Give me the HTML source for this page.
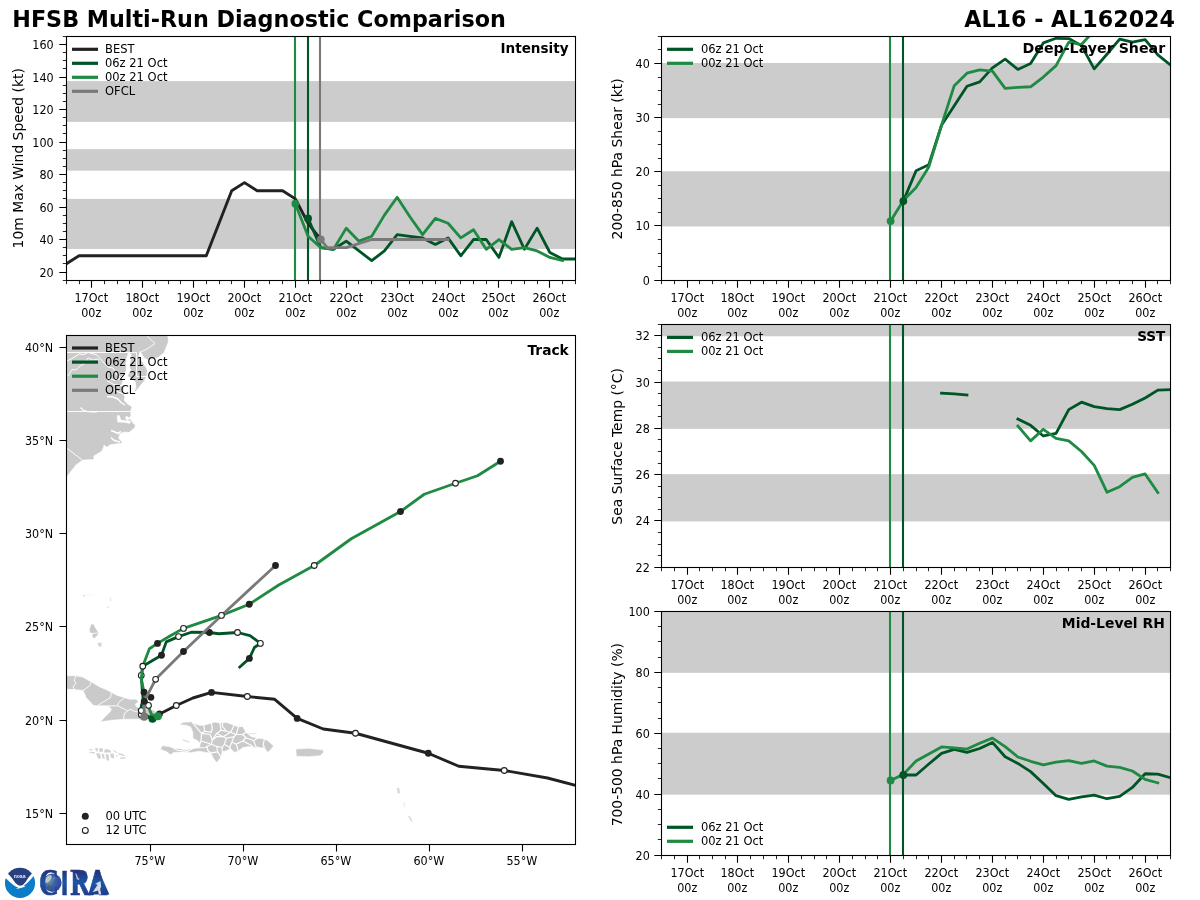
<!DOCTYPE html>
<html lang="en"><head><meta charset="utf-8"><title>HFSB Multi-Run Diagnostic Comparison</title>
<style>
html,body{margin:0;padding:0;background:#fff;}
body{width:1200px;height:900px;overflow:hidden;}
svg{display:block;will-change:transform;}
svg text{font-family:"DejaVu Sans", "Liberation Sans", sans-serif;fill:#000;}
</style></head><body>
<svg width="1200" height="900" viewBox="0 0 1200 900">
<defs><clipPath id="c_I"><rect x="66.3" y="36.4" width="509" height="243.75"/></clipPath>
<clipPath id="c_S"><rect x="661.57" y="36.4" width="509" height="243.75"/></clipPath>
<clipPath id="c_T"><rect x="661.57" y="324.2" width="509" height="243"/></clipPath>
<clipPath id="c_R"><rect x="661.57" y="611.4" width="509" height="243.7"/></clipPath>
<clipPath id="c_K"><rect x="66.5" y="335.5" width="509" height="509"/></clipPath>
<clipPath id="noaaclip"><circle cx="500" cy="472" r="377"/></clipPath>
<radialGradient id="globe" cx="0.3" cy="0.4" r="0.8"><stop offset="0" stop-color="#7f9a9a"/><stop offset="0.4" stop-color="#3f62a8"/><stop offset="1" stop-color="#2b3f9c"/></radialGradient>
<linearGradient id="cirag" gradientUnits="userSpaceOnUse" x1="0" y1="-25" x2="0" y2="0"><stop offset="0" stop-color="#262f7b"/><stop offset="0.5" stop-color="#1c55a3"/><stop offset="1" stop-color="#223c8c"/></linearGradient>
<linearGradient id="cirag2" gradientUnits="userSpaceOnUse" x1="0" y1="870" x2="0" y2="895"><stop offset="0" stop-color="#262f7b"/><stop offset="0.5" stop-color="#1c55a3"/><stop offset="1" stop-color="#223c8c"/></linearGradient></defs>
<rect width="1200" height="900" fill="#fff"/>
<rect x="66.3" y="198.9" width="509.5" height="50.05" fill="#cccccc"/>
<rect x="66.3" y="149.18" width="509.5" height="21.45" fill="#cccccc"/>
<rect x="66.3" y="81.09" width="509.5" height="40.79" fill="#cccccc"/>
<line x1="295" y1="36.4" x2="295" y2="280.65" stroke="#1e8a42" stroke-width="2.1"/>
<line x1="308" y1="36.4" x2="308" y2="280.65" stroke="#005526" stroke-width="2.1"/>
<line x1="320" y1="36.4" x2="320" y2="280.65" stroke="#797979" stroke-width="2.1"/>
<polyline points="66.3,263.9 79.02,255.77 91.75,255.77 104.47,255.77 117.2,255.77 129.92,255.77 142.65,255.77 155.38,255.77 168.1,255.77 180.82,255.77 193.55,255.77 206.27,255.77 219,223.27 231.72,190.77 244.45,182.65 257.17,190.77 269.9,190.77 282.62,190.77 295.35,198.9 308.07,223.27 320.8,239.52" fill="none" stroke="#222222" stroke-width="2.9" stroke-linejoin="round" stroke-linecap="square" clip-path="url(#c_I)"/>
<polyline points="308.07,218.4 320.8,247.65 333.52,249.27 346.25,241.15 358.97,250.9 371.7,260.65 384.42,250.9 397.15,234.65 409.87,236.27 422.6,237.9 435.32,244.4 448.05,237.9 460.77,255.77 473.5,239.52 486.22,239.52 498.95,257.4 511.67,221.65 524.4,249.27 537.12,228.15 549.85,252.52 562.57,259.02 575.3,259.02" fill="none" stroke="#005526" stroke-width="2.8" stroke-linejoin="round" stroke-linecap="square" clip-path="url(#c_I)"/>
<polyline points="295.35,203.77 308.07,236.27 320.8,247.65 333.52,249.27 346.25,228.15 358.97,241.15 371.7,236.27 384.42,215.15 397.15,197.27 409.87,216.77 422.6,234.65 435.32,218.4 448.05,223.27 460.77,237.9 473.5,229.77 486.22,249.27 498.95,239.52 511.67,249.27 524.4,247.65 537.12,250.9 549.85,257.4 562.57,260.65" fill="none" stroke="#1e8a42" stroke-width="2.8" stroke-linejoin="round" stroke-linecap="square" clip-path="url(#c_I)"/>
<polyline points="320.8,239.52 327.16,247.65 346.25,247.65 371.7,239.52 448.05,239.52" fill="none" stroke="#797979" stroke-width="2.8" stroke-linejoin="round" stroke-linecap="square" clip-path="url(#c_I)"/>
<circle cx="295.35" cy="203.77" r="3.9" fill="#1e8a42"/>
<circle cx="308.07" cy="218.4" r="3.9" fill="#005526"/>
<circle cx="320.8" cy="239.52" r="3.9" fill="#797979"/>
<rect x="66.5" y="36.5" width="509" height="244" fill="none" stroke="#000" stroke-width="1.1"/>
<path d="M66.5 280.5v3.7M79.5 280.5v3.7M104.5 280.5v3.7M117.5 280.5v3.7M129.5 280.5v3.7M155.5 280.5v3.7M168.5 280.5v3.7M180.5 280.5v3.7M206.5 280.5v3.7M219.5 280.5v3.7M231.5 280.5v3.7M257.5 280.5v3.7M269.5 280.5v3.7M282.5 280.5v3.7M308.5 280.5v3.7M320.5 280.5v3.7M333.5 280.5v3.7M358.5 280.5v3.7M371.5 280.5v3.7M384.5 280.5v3.7M409.5 280.5v3.7M422.5 280.5v3.7M435.5 280.5v3.7M460.5 280.5v3.7M473.5 280.5v3.7M486.5 280.5v3.7M511.5 280.5v3.7M524.5 280.5v3.7M537.5 280.5v3.7M562.5 280.5v3.7M575.5 280.5v3.7" stroke="#000" stroke-width="0.85" fill="none"/>
<text transform="translate(91.3 302.05) scale(0.949 1)" text-anchor="middle" font-size="11.8">17Oct</text>
<text transform="translate(91.3 317.15) scale(0.949 1)" text-anchor="middle" font-size="11.8">00z</text>
<text transform="translate(142.3 302.05) scale(0.949 1)" text-anchor="middle" font-size="11.8">18Oct</text>
<text transform="translate(142.3 317.15) scale(0.949 1)" text-anchor="middle" font-size="11.8">00z</text>
<text transform="translate(193.3 302.05) scale(0.949 1)" text-anchor="middle" font-size="11.8">19Oct</text>
<text transform="translate(193.3 317.15) scale(0.949 1)" text-anchor="middle" font-size="11.8">00z</text>
<text transform="translate(244.3 302.05) scale(0.949 1)" text-anchor="middle" font-size="11.8">20Oct</text>
<text transform="translate(244.3 317.15) scale(0.949 1)" text-anchor="middle" font-size="11.8">00z</text>
<text transform="translate(295.3 302.05) scale(0.949 1)" text-anchor="middle" font-size="11.8">21Oct</text>
<text transform="translate(295.3 317.15) scale(0.949 1)" text-anchor="middle" font-size="11.8">00z</text>
<text transform="translate(346.3 302.05) scale(0.949 1)" text-anchor="middle" font-size="11.8">22Oct</text>
<text transform="translate(346.3 317.15) scale(0.949 1)" text-anchor="middle" font-size="11.8">00z</text>
<text transform="translate(397.3 302.05) scale(0.949 1)" text-anchor="middle" font-size="11.8">23Oct</text>
<text transform="translate(397.3 317.15) scale(0.949 1)" text-anchor="middle" font-size="11.8">00z</text>
<text transform="translate(448.3 302.05) scale(0.949 1)" text-anchor="middle" font-size="11.8">24Oct</text>
<text transform="translate(448.3 317.15) scale(0.949 1)" text-anchor="middle" font-size="11.8">00z</text>
<text transform="translate(498.3 302.05) scale(0.949 1)" text-anchor="middle" font-size="11.8">25Oct</text>
<text transform="translate(498.3 317.15) scale(0.949 1)" text-anchor="middle" font-size="11.8">00z</text>
<text transform="translate(549.3 302.05) scale(0.949 1)" text-anchor="middle" font-size="11.8">26Oct</text>
<text transform="translate(549.3 317.15) scale(0.949 1)" text-anchor="middle" font-size="11.8">00z</text>
<path d="M91.5 280.5v7.2M142.5 280.5v7.2M193.5 280.5v7.2M244.5 280.5v7.2M295.5 280.5v7.2M346.5 280.5v7.2M397.5 280.5v7.2M448.5 280.5v7.2M498.5 280.5v7.2M549.5 280.5v7.2" stroke="#000" stroke-width="1.1" fill="none"/>
<path d="M66.5 280.5h-3.7M66.5 263.5h-3.7M66.5 255.5h-3.7M66.5 247.5h-3.7M66.5 231.5h-3.7M66.5 223.5h-3.7M66.5 215.5h-3.7M66.5 198.5h-3.7M66.5 190.5h-3.7M66.5 182.5h-3.7M66.5 166.5h-3.7M66.5 158.5h-3.7M66.5 150.5h-3.7M66.5 133.5h-3.7M66.5 125.5h-3.7M66.5 117.5h-3.7M66.5 101.5h-3.7M66.5 93.5h-3.7M66.5 85.5h-3.7M66.5 68.5h-3.7M66.5 60.5h-3.7M66.5 52.5h-3.7M66.5 36.5h-3.7" stroke="#000" stroke-width="0.85" fill="none"/>
<text transform="translate(53.7 276.85) scale(0.949 1)" text-anchor="end" font-size="11.8">20</text>
<text transform="translate(53.7 243.85) scale(0.949 1)" text-anchor="end" font-size="11.8">40</text>
<text transform="translate(53.7 211.85) scale(0.949 1)" text-anchor="end" font-size="11.8">60</text>
<text transform="translate(53.7 178.85) scale(0.949 1)" text-anchor="end" font-size="11.8">80</text>
<text transform="translate(53.7 146.85) scale(0.949 1)" text-anchor="end" font-size="11.8">100</text>
<text transform="translate(53.7 113.85) scale(0.949 1)" text-anchor="end" font-size="11.8">120</text>
<text transform="translate(53.7 81.85) scale(0.949 1)" text-anchor="end" font-size="11.8">140</text>
<text transform="translate(53.7 48.85) scale(0.949 1)" text-anchor="end" font-size="11.8">160</text>
<path d="M66.5 272.5h-7.2M66.5 239.5h-7.2M66.5 207.5h-7.2M66.5 174.5h-7.2M66.5 142.5h-7.2M66.5 109.5h-7.2M66.5 77.5h-7.2M66.5 44.5h-7.2" stroke="#000" stroke-width="1.1" fill="none"/>
<text transform="translate(23.3 158.27) rotate(-90)" text-anchor="middle" font-size="13.9">10m Max Wind Speed (kt)</text>
<text transform="translate(568.6 53.2) scale(0.978 1)" text-anchor="end" font-weight="bold" font-size="13.9">Intensity</text>
<line x1="72" y1="49.3" x2="98" y2="49.3" stroke="#222222" stroke-width="3.2"/>
<text transform="translate(105 53.2) scale(0.975 1)" font-size="11.8">BEST</text>
<line x1="72" y1="63.3" x2="98" y2="63.3" stroke="#005526" stroke-width="3.2"/>
<text transform="translate(105 67.2) scale(0.975 1)" font-size="11.8">06z 21 Oct</text>
<line x1="72" y1="77.3" x2="98" y2="77.3" stroke="#1e8a42" stroke-width="3.2"/>
<text transform="translate(105 81.2) scale(0.975 1)" font-size="11.8">00z 21 Oct</text>
<line x1="72" y1="91.3" x2="98" y2="91.3" stroke="#797979" stroke-width="3.2"/>
<text transform="translate(105 95.2) scale(0.975 1)" font-size="11.8">OFCL</text>
<rect x="661.57" y="171.32" width="509.5" height="55.17" fill="#cccccc"/>
<rect x="661.57" y="62.98" width="509.5" height="55.17" fill="#cccccc"/>
<line x1="890" y1="36.4" x2="890" y2="280.65" stroke="#1e8a42" stroke-width="2.1"/>
<line x1="903" y1="36.4" x2="903" y2="280.65" stroke="#005526" stroke-width="2.1"/>
<polyline points="903.35,201.07 916.07,170.73 928.8,164.77 941.52,125.23 954.25,105.73 966.97,86.23 979.69,81.9 992.42,67.82 1005.14,59.15 1017.87,69.44 1030.6,63.48 1043.32,42.9 1056.05,38.3 1068.77,38.57 1081.49,45.61 1094.22,68.9 1106.94,54.27 1119.67,39.11 1132.39,42.09 1145.12,39.65 1157.85,54.82 1170.57,65.11" fill="none" stroke="#005526" stroke-width="2.8" stroke-linejoin="round" stroke-linecap="square" clip-path="url(#c_S)"/>
<polyline points="890.62,221.11 903.35,200.52 916.07,187.52 928.8,166.94 941.52,125.23 954.25,85.69 966.97,73.23 979.69,69.98 992.42,71.07 1005.14,88.4 1017.87,87.32 1030.6,86.77 1043.32,77.03 1056.05,65.65 1068.77,42.09 1081.49,44.53 1094.22,30.44" fill="none" stroke="#1e8a42" stroke-width="2.8" stroke-linejoin="round" stroke-linecap="square" clip-path="url(#c_S)"/>
<circle cx="890.62" cy="221.11" r="3.9" fill="#1e8a42"/>
<circle cx="903.35" cy="201.07" r="3.9" fill="#005526"/>
<rect x="661.5" y="36.5" width="509" height="244" fill="none" stroke="#000" stroke-width="1.1"/>
<path d="M661.5 280.5v3.7M674.5 280.5v3.7M699.5 280.5v3.7M712.5 280.5v3.7M725.5 280.5v3.7M750.5 280.5v3.7M763.5 280.5v3.7M776.5 280.5v3.7M801.5 280.5v3.7M814.5 280.5v3.7M826.5 280.5v3.7M852.5 280.5v3.7M865.5 280.5v3.7M877.5 280.5v3.7M903.5 280.5v3.7M916.5 280.5v3.7M928.5 280.5v3.7M954.5 280.5v3.7M966.5 280.5v3.7M979.5 280.5v3.7M1005.5 280.5v3.7M1017.5 280.5v3.7M1030.5 280.5v3.7M1056.5 280.5v3.7M1068.5 280.5v3.7M1081.5 280.5v3.7M1106.5 280.5v3.7M1119.5 280.5v3.7M1132.5 280.5v3.7M1157.5 280.5v3.7M1170.5 280.5v3.7" stroke="#000" stroke-width="0.85" fill="none"/>
<text transform="translate(687.3 302.05) scale(0.949 1)" text-anchor="middle" font-size="11.8">17Oct</text>
<text transform="translate(687.3 317.15) scale(0.949 1)" text-anchor="middle" font-size="11.8">00z</text>
<text transform="translate(737.3 302.05) scale(0.949 1)" text-anchor="middle" font-size="11.8">18Oct</text>
<text transform="translate(737.3 317.15) scale(0.949 1)" text-anchor="middle" font-size="11.8">00z</text>
<text transform="translate(788.3 302.05) scale(0.949 1)" text-anchor="middle" font-size="11.8">19Oct</text>
<text transform="translate(788.3 317.15) scale(0.949 1)" text-anchor="middle" font-size="11.8">00z</text>
<text transform="translate(839.3 302.05) scale(0.949 1)" text-anchor="middle" font-size="11.8">20Oct</text>
<text transform="translate(839.3 317.15) scale(0.949 1)" text-anchor="middle" font-size="11.8">00z</text>
<text transform="translate(890.3 302.05) scale(0.949 1)" text-anchor="middle" font-size="11.8">21Oct</text>
<text transform="translate(890.3 317.15) scale(0.949 1)" text-anchor="middle" font-size="11.8">00z</text>
<text transform="translate(941.3 302.05) scale(0.949 1)" text-anchor="middle" font-size="11.8">22Oct</text>
<text transform="translate(941.3 317.15) scale(0.949 1)" text-anchor="middle" font-size="11.8">00z</text>
<text transform="translate(992.3 302.05) scale(0.949 1)" text-anchor="middle" font-size="11.8">23Oct</text>
<text transform="translate(992.3 317.15) scale(0.949 1)" text-anchor="middle" font-size="11.8">00z</text>
<text transform="translate(1043.3 302.05) scale(0.949 1)" text-anchor="middle" font-size="11.8">24Oct</text>
<text transform="translate(1043.3 317.15) scale(0.949 1)" text-anchor="middle" font-size="11.8">00z</text>
<text transform="translate(1094.3 302.05) scale(0.949 1)" text-anchor="middle" font-size="11.8">25Oct</text>
<text transform="translate(1094.3 317.15) scale(0.949 1)" text-anchor="middle" font-size="11.8">00z</text>
<text transform="translate(1145.3 302.05) scale(0.949 1)" text-anchor="middle" font-size="11.8">26Oct</text>
<text transform="translate(1145.3 317.15) scale(0.949 1)" text-anchor="middle" font-size="11.8">00z</text>
<path d="M687.5 280.5v7.2M737.5 280.5v7.2M788.5 280.5v7.2M839.5 280.5v7.2M890.5 280.5v7.2M941.5 280.5v7.2M992.5 280.5v7.2M1043.5 280.5v7.2M1094.5 280.5v7.2M1145.5 280.5v7.2" stroke="#000" stroke-width="1.1" fill="none"/>
<path d="M661.5 266.5h-3.7M661.5 253.5h-3.7M661.5 239.5h-3.7M661.5 212.5h-3.7M661.5 198.5h-3.7M661.5 185.5h-3.7M661.5 158.5h-3.7M661.5 144.5h-3.7M661.5 131.5h-3.7M661.5 104.5h-3.7M661.5 90.5h-3.7M661.5 77.5h-3.7M661.5 49.5h-3.7M661.5 36.5h-3.7" stroke="#000" stroke-width="0.85" fill="none"/>
<text transform="translate(649.8 284.85) scale(0.949 1)" text-anchor="end" font-size="11.8">0</text>
<text transform="translate(649.8 229.85) scale(0.949 1)" text-anchor="end" font-size="11.8">10</text>
<text transform="translate(649.8 175.85) scale(0.949 1)" text-anchor="end" font-size="11.8">20</text>
<text transform="translate(649.8 121.85) scale(0.949 1)" text-anchor="end" font-size="11.8">30</text>
<text transform="translate(649.8 67.85) scale(0.949 1)" text-anchor="end" font-size="11.8">40</text>
<path d="M661.5 280.5h-7.2M661.5 225.5h-7.2M661.5 171.5h-7.2M661.5 117.5h-7.2M661.5 63.5h-7.2" stroke="#000" stroke-width="1.1" fill="none"/>
<text transform="translate(622 158.87) rotate(-90)" text-anchor="middle" font-size="13.9">200-850 hPa Shear (kt)</text>
<text transform="translate(1165.2 53.2) scale(1.022 1)" text-anchor="end" font-weight="bold" font-size="13.9">Deep-Layer Shear</text>
<line x1="667" y1="49.3" x2="693" y2="49.3" stroke="#005526" stroke-width="3.2"/>
<text transform="translate(700.9 53.2) scale(0.975 1)" font-size="11.8">06z 21 Oct</text>
<line x1="667" y1="63.3" x2="693" y2="63.3" stroke="#1e8a42" stroke-width="3.2"/>
<text transform="translate(700.9 67.2) scale(0.975 1)" font-size="11.8">00z 21 Oct</text>
<rect x="661.57" y="474.13" width="509.5" height="47.29" fill="#cccccc"/>
<rect x="661.57" y="381.56" width="509.5" height="47.29" fill="#cccccc"/>
<rect x="661.57" y="324.2" width="509.5" height="12.07" fill="#cccccc"/>
<line x1="890" y1="324.2" x2="890" y2="567.7" stroke="#1e8a42" stroke-width="2.1"/>
<line x1="903" y1="324.2" x2="903" y2="567.7" stroke="#005526" stroke-width="2.1"/>
<polyline points="941.52,393.17 954.25,393.86 966.97,395.02" fill="none" stroke="#005526" stroke-width="2.8" stroke-linejoin="round" stroke-linecap="square" clip-path="url(#c_T)"/>
<polyline points="1017.87,419.09 1030.6,425.33 1043.32,435.98 1056.05,433.43 1068.77,409.6 1081.49,402.19 1094.22,406.59 1106.94,408.67 1119.67,409.6 1132.39,404.27 1145.12,398.03 1157.85,390.16 1170.57,389.69" fill="none" stroke="#005526" stroke-width="2.8" stroke-linejoin="round" stroke-linecap="square" clip-path="url(#c_T)"/>
<polyline points="1017.87,426.03 1030.6,440.84 1043.32,429.27 1056.05,438.29 1068.77,440.84 1081.49,451.49 1094.22,465.37 1106.94,492.22 1119.67,486.66 1132.39,477.41 1145.12,473.93 1157.85,492.68" fill="none" stroke="#1e8a42" stroke-width="2.8" stroke-linejoin="round" stroke-linecap="square" clip-path="url(#c_T)"/>
<rect x="661.5" y="324.5" width="509" height="243" fill="none" stroke="#000" stroke-width="1.1"/>
<path d="M661.5 567.5v3.7M674.5 567.5v3.7M699.5 567.5v3.7M712.5 567.5v3.7M725.5 567.5v3.7M750.5 567.5v3.7M763.5 567.5v3.7M776.5 567.5v3.7M801.5 567.5v3.7M814.5 567.5v3.7M826.5 567.5v3.7M852.5 567.5v3.7M865.5 567.5v3.7M877.5 567.5v3.7M903.5 567.5v3.7M916.5 567.5v3.7M928.5 567.5v3.7M954.5 567.5v3.7M966.5 567.5v3.7M979.5 567.5v3.7M1005.5 567.5v3.7M1017.5 567.5v3.7M1030.5 567.5v3.7M1056.5 567.5v3.7M1068.5 567.5v3.7M1081.5 567.5v3.7M1106.5 567.5v3.7M1119.5 567.5v3.7M1132.5 567.5v3.7M1157.5 567.5v3.7M1170.5 567.5v3.7" stroke="#000" stroke-width="0.85" fill="none"/>
<text transform="translate(687.3 589.1) scale(0.949 1)" text-anchor="middle" font-size="11.8">17Oct</text>
<text transform="translate(687.3 604.2) scale(0.949 1)" text-anchor="middle" font-size="11.8">00z</text>
<text transform="translate(737.3 589.1) scale(0.949 1)" text-anchor="middle" font-size="11.8">18Oct</text>
<text transform="translate(737.3 604.2) scale(0.949 1)" text-anchor="middle" font-size="11.8">00z</text>
<text transform="translate(788.3 589.1) scale(0.949 1)" text-anchor="middle" font-size="11.8">19Oct</text>
<text transform="translate(788.3 604.2) scale(0.949 1)" text-anchor="middle" font-size="11.8">00z</text>
<text transform="translate(839.3 589.1) scale(0.949 1)" text-anchor="middle" font-size="11.8">20Oct</text>
<text transform="translate(839.3 604.2) scale(0.949 1)" text-anchor="middle" font-size="11.8">00z</text>
<text transform="translate(890.3 589.1) scale(0.949 1)" text-anchor="middle" font-size="11.8">21Oct</text>
<text transform="translate(890.3 604.2) scale(0.949 1)" text-anchor="middle" font-size="11.8">00z</text>
<text transform="translate(941.3 589.1) scale(0.949 1)" text-anchor="middle" font-size="11.8">22Oct</text>
<text transform="translate(941.3 604.2) scale(0.949 1)" text-anchor="middle" font-size="11.8">00z</text>
<text transform="translate(992.3 589.1) scale(0.949 1)" text-anchor="middle" font-size="11.8">23Oct</text>
<text transform="translate(992.3 604.2) scale(0.949 1)" text-anchor="middle" font-size="11.8">00z</text>
<text transform="translate(1043.3 589.1) scale(0.949 1)" text-anchor="middle" font-size="11.8">24Oct</text>
<text transform="translate(1043.3 604.2) scale(0.949 1)" text-anchor="middle" font-size="11.8">00z</text>
<text transform="translate(1094.3 589.1) scale(0.949 1)" text-anchor="middle" font-size="11.8">25Oct</text>
<text transform="translate(1094.3 604.2) scale(0.949 1)" text-anchor="middle" font-size="11.8">00z</text>
<text transform="translate(1145.3 589.1) scale(0.949 1)" text-anchor="middle" font-size="11.8">26Oct</text>
<text transform="translate(1145.3 604.2) scale(0.949 1)" text-anchor="middle" font-size="11.8">00z</text>
<path d="M687.5 567.5v7.2M737.5 567.5v7.2M788.5 567.5v7.2M839.5 567.5v7.2M890.5 567.5v7.2M941.5 567.5v7.2M992.5 567.5v7.2M1043.5 567.5v7.2M1094.5 567.5v7.2M1145.5 567.5v7.2" stroke="#000" stroke-width="1.1" fill="none"/>
<path d="M661.5 555.5h-3.7M661.5 544.5h-3.7M661.5 532.5h-3.7M661.5 509.5h-3.7M661.5 497.5h-3.7M661.5 486.5h-3.7M661.5 463.5h-3.7M661.5 451.5h-3.7M661.5 439.5h-3.7M661.5 416.5h-3.7M661.5 405.5h-3.7M661.5 393.5h-3.7M661.5 370.5h-3.7M661.5 358.5h-3.7M661.5 347.5h-3.7M661.5 324.5h-3.7" stroke="#000" stroke-width="0.85" fill="none"/>
<text transform="translate(649.8 571.85) scale(0.949 1)" text-anchor="end" font-size="11.8">22</text>
<text transform="translate(649.8 524.85) scale(0.949 1)" text-anchor="end" font-size="11.8">24</text>
<text transform="translate(649.8 478.85) scale(0.949 1)" text-anchor="end" font-size="11.8">26</text>
<text transform="translate(649.8 432.85) scale(0.949 1)" text-anchor="end" font-size="11.8">28</text>
<text transform="translate(649.8 386.85) scale(0.949 1)" text-anchor="end" font-size="11.8">30</text>
<text transform="translate(649.8 339.85) scale(0.949 1)" text-anchor="end" font-size="11.8">32</text>
<path d="M661.5 567.5h-7.2M661.5 520.5h-7.2M661.5 474.5h-7.2M661.5 428.5h-7.2M661.5 382.5h-7.2M661.5 335.5h-7.2" stroke="#000" stroke-width="1.1" fill="none"/>
<text transform="translate(622 446.4) rotate(-90)" text-anchor="middle" font-size="13.9">Sea Surface Temp (°C)</text>
<text transform="translate(1165.4 341) scale(0.978 1)" text-anchor="end" font-weight="bold" font-size="13.9">SST</text>
<line x1="667" y1="337.4" x2="693" y2="337.4" stroke="#005526" stroke-width="3.2"/>
<text transform="translate(700.9 341.3) scale(0.975 1)" font-size="11.8">06z 21 Oct</text>
<line x1="667" y1="351.4" x2="693" y2="351.4" stroke="#1e8a42" stroke-width="3.2"/>
<text transform="translate(700.9 355.3) scale(0.975 1)" font-size="11.8">00z 21 Oct</text>
<rect x="661.57" y="732.75" width="509.5" height="61.92" fill="#cccccc"/>
<rect x="661.57" y="611.4" width="509.5" height="61.43" fill="#cccccc"/>
<line x1="890" y1="611.4" x2="890" y2="855.6" stroke="#1e8a42" stroke-width="2.1"/>
<line x1="903" y1="611.4" x2="903" y2="855.6" stroke="#005526" stroke-width="2.1"/>
<polyline points="903.35,774.98 916.07,774.98 928.8,764.02 941.52,753.36 954.25,749.4 966.97,752.44 979.69,748.48 992.42,742.39 1005.14,756.71 1017.87,763.41 1030.6,771.63 1043.32,783.51 1056.05,795.7 1068.77,799.35 1081.49,796.92 1094.22,795.09 1106.94,798.74 1119.67,796.31 1132.39,787.47 1145.12,773.77 1157.85,774.07 1170.57,777.73" fill="none" stroke="#005526" stroke-width="2.8" stroke-linejoin="round" stroke-linecap="square" clip-path="url(#c_R)"/>
<polyline points="890.62,780.47 903.35,774.37 916.07,760.97 928.8,753.96 941.52,746.96 954.25,747.87 966.97,749.09 979.69,743.3 992.42,738.12 1005.14,746.65 1017.87,757.01 1030.6,761.28 1043.32,764.93 1056.05,762.19 1068.77,760.67 1081.49,763.41 1094.22,760.97 1106.94,766.15 1119.67,767.37 1132.39,771.02 1145.12,779.4 1157.85,782.9" fill="none" stroke="#1e8a42" stroke-width="2.8" stroke-linejoin="round" stroke-linecap="square" clip-path="url(#c_R)"/>
<circle cx="890.62" cy="780.47" r="3.9" fill="#1e8a42"/>
<circle cx="903.35" cy="774.98" r="3.9" fill="#005526"/>
<rect x="661.5" y="611.5" width="509" height="244" fill="none" stroke="#000" stroke-width="1.1"/>
<path d="M661.5 855.5v3.7M674.5 855.5v3.7M699.5 855.5v3.7M712.5 855.5v3.7M725.5 855.5v3.7M750.5 855.5v3.7M763.5 855.5v3.7M776.5 855.5v3.7M801.5 855.5v3.7M814.5 855.5v3.7M826.5 855.5v3.7M852.5 855.5v3.7M865.5 855.5v3.7M877.5 855.5v3.7M903.5 855.5v3.7M916.5 855.5v3.7M928.5 855.5v3.7M954.5 855.5v3.7M966.5 855.5v3.7M979.5 855.5v3.7M1005.5 855.5v3.7M1017.5 855.5v3.7M1030.5 855.5v3.7M1056.5 855.5v3.7M1068.5 855.5v3.7M1081.5 855.5v3.7M1106.5 855.5v3.7M1119.5 855.5v3.7M1132.5 855.5v3.7M1157.5 855.5v3.7M1170.5 855.5v3.7" stroke="#000" stroke-width="0.85" fill="none"/>
<text transform="translate(687.3 877) scale(0.949 1)" text-anchor="middle" font-size="11.8">17Oct</text>
<text transform="translate(687.3 892.1) scale(0.949 1)" text-anchor="middle" font-size="11.8">00z</text>
<text transform="translate(737.3 877) scale(0.949 1)" text-anchor="middle" font-size="11.8">18Oct</text>
<text transform="translate(737.3 892.1) scale(0.949 1)" text-anchor="middle" font-size="11.8">00z</text>
<text transform="translate(788.3 877) scale(0.949 1)" text-anchor="middle" font-size="11.8">19Oct</text>
<text transform="translate(788.3 892.1) scale(0.949 1)" text-anchor="middle" font-size="11.8">00z</text>
<text transform="translate(839.3 877) scale(0.949 1)" text-anchor="middle" font-size="11.8">20Oct</text>
<text transform="translate(839.3 892.1) scale(0.949 1)" text-anchor="middle" font-size="11.8">00z</text>
<text transform="translate(890.3 877) scale(0.949 1)" text-anchor="middle" font-size="11.8">21Oct</text>
<text transform="translate(890.3 892.1) scale(0.949 1)" text-anchor="middle" font-size="11.8">00z</text>
<text transform="translate(941.3 877) scale(0.949 1)" text-anchor="middle" font-size="11.8">22Oct</text>
<text transform="translate(941.3 892.1) scale(0.949 1)" text-anchor="middle" font-size="11.8">00z</text>
<text transform="translate(992.3 877) scale(0.949 1)" text-anchor="middle" font-size="11.8">23Oct</text>
<text transform="translate(992.3 892.1) scale(0.949 1)" text-anchor="middle" font-size="11.8">00z</text>
<text transform="translate(1043.3 877) scale(0.949 1)" text-anchor="middle" font-size="11.8">24Oct</text>
<text transform="translate(1043.3 892.1) scale(0.949 1)" text-anchor="middle" font-size="11.8">00z</text>
<text transform="translate(1094.3 877) scale(0.949 1)" text-anchor="middle" font-size="11.8">25Oct</text>
<text transform="translate(1094.3 892.1) scale(0.949 1)" text-anchor="middle" font-size="11.8">00z</text>
<text transform="translate(1145.3 877) scale(0.949 1)" text-anchor="middle" font-size="11.8">26Oct</text>
<text transform="translate(1145.3 892.1) scale(0.949 1)" text-anchor="middle" font-size="11.8">00z</text>
<path d="M687.5 855.5v7.2M737.5 855.5v7.2M788.5 855.5v7.2M839.5 855.5v7.2M890.5 855.5v7.2M941.5 855.5v7.2M992.5 855.5v7.2M1043.5 855.5v7.2M1094.5 855.5v7.2M1145.5 855.5v7.2" stroke="#000" stroke-width="1.1" fill="none"/>
<path d="M661.5 839.5h-3.7M661.5 824.5h-3.7M661.5 809.5h-3.7M661.5 778.5h-3.7M661.5 763.5h-3.7M661.5 748.5h-3.7M661.5 718.5h-3.7M661.5 702.5h-3.7M661.5 687.5h-3.7M661.5 657.5h-3.7M661.5 641.5h-3.7M661.5 626.5h-3.7" stroke="#000" stroke-width="0.85" fill="none"/>
<text transform="translate(649.8 859.85) scale(0.949 1)" text-anchor="end" font-size="11.8">20</text>
<text transform="translate(649.8 798.85) scale(0.949 1)" text-anchor="end" font-size="11.8">40</text>
<text transform="translate(649.8 737.85) scale(0.949 1)" text-anchor="end" font-size="11.8">60</text>
<text transform="translate(649.8 676.85) scale(0.949 1)" text-anchor="end" font-size="11.8">80</text>
<text transform="translate(649.8 615.85) scale(0.949 1)" text-anchor="end" font-size="11.8">100</text>
<path d="M661.5 855.5h-7.2M661.5 794.5h-7.2M661.5 733.5h-7.2M661.5 672.5h-7.2M661.5 611.5h-7.2" stroke="#000" stroke-width="1.1" fill="none"/>
<text transform="translate(622 734.65) rotate(-90)" text-anchor="middle" font-size="13.9">700-500 hPa Humidity (%)</text>
<text x="1164.8" y="628.2" text-anchor="end" font-weight="bold" font-size="13.9">Mid-Level RH</text>
<line x1="667" y1="827.3" x2="693" y2="827.3" stroke="#005526" stroke-width="3.2"/>
<text transform="translate(700.9 831.2) scale(0.975 1)" font-size="11.8">06z 21 Oct</text>
<line x1="667" y1="841.3" x2="693" y2="841.3" stroke="#1e8a42" stroke-width="3.2"/>
<text transform="translate(700.9 845.2) scale(0.975 1)" font-size="11.8">00z 21 Oct</text>
<g clip-path="url(#c_K)">
<polygon points="60,330 164,330 168.5,338 168,343 165.5,349 164,352.7 158.7,357 153.3,359.3 148,360 144,358 141.7,354 140,351.5 138.7,356 141.3,360 146.7,368.7 147.3,371.3 146.7,376.7 144,381.3 140.7,385.3 135.3,391.7 134.3,391.3 136,387.3 135.3,382 130.7,378 127.3,376 130.7,370 129.3,366.7 130.2,362 130.7,358.7 131,354 128.5,352.8 126.7,358 126,364 126.5,370 124,374 121,377 123,381 121.5,385 124,389 123,393 125,397 124,400 127,403.5 130.7,406 132,407 130.5,411.5 131,415.5 129,418 134,424 135.5,425 134.5,428 129,432.5 124,432 120,434 118.5,438 122.5,442.5 120,443.5 111,444.5 107,447 104,446 102,451 94,456 94,459.5 84,460 82,460.5 76,465 72,470 69,474 66,478 60,486" fill="#cacaca" stroke="#fff" stroke-width="0.6" stroke-linejoin="round"/>
<polygon points="117,415.5 117.5,422 124,422.5 130,423.5 130.5,421 121,420 119.5,415.5" fill="#fff" stroke="#fff" stroke-width="0.3" stroke-linejoin="round"/>
<polygon points="129.5,418.5 127,416 125,417.5 127.5,421" fill="#fff" stroke="#fff" stroke-width="0.3" stroke-linejoin="round"/>
<polyline points="66,352.5 136.5,352.5" fill="none" stroke="#fff" stroke-width="0.9" stroke-linejoin="round"/>
<polyline points="136.5,352.5 136.5,376.5 147,376.5" fill="none" stroke="#fff" stroke-width="0.9" stroke-linejoin="round"/>
<polyline points="147,336 155,343.5 147,349 140,352.5" fill="none" stroke="#fff" stroke-width="0.9" stroke-linejoin="round"/>
<polyline points="121.5,378 116,374 113,368 108,367 104,363 97,355 92,353.5 88,352.5 84,354.5 79,354 73,358 67,361" fill="none" stroke="#fff" stroke-width="1.0" stroke-linejoin="round"/>
<polyline points="68,376 72,369.5 76,370 80,366 84,364 88,358 93,360 97,359 99,360" fill="none" stroke="#fff" stroke-width="0.9" stroke-linejoin="round"/>
<polyline points="121.5,378 114,380 108,378" fill="none" stroke="#fff" stroke-width="1.3" stroke-linejoin="round"/>
<polyline points="123,386 114,384.5 107,381" fill="none" stroke="#fff" stroke-width="1.0" stroke-linejoin="round"/>
<polyline points="107,396.5 113,397 118,399 121,402.5 125,405" fill="none" stroke="#fff" stroke-width="1.4" stroke-linejoin="round"/>
<polyline points="124,394 117,391.5 112,388" fill="none" stroke="#fff" stroke-width="1.0" stroke-linejoin="round"/>
<polyline points="66,411.5 130.5,411.5" fill="none" stroke="#fff" stroke-width="0.9" stroke-linejoin="round"/>
<polyline points="66,447.5 82.5,460.2" fill="none" stroke="#fff" stroke-width="0.9" stroke-linejoin="round"/>
<polyline points="80.5,407.5 83,410 87,411.5 92,412 97,412" fill="none" stroke="#fff" stroke-width="1.1" stroke-linejoin="round"/>
<polyline points="111,430.5 115,432 118,433.5 121,431.5" fill="none" stroke="#fff" stroke-width="1.6" stroke-linejoin="round"/>
<polyline points="111,437.5 113.5,440 116,441 120,442" fill="none" stroke="#fff" stroke-width="1.6" stroke-linejoin="round"/>
<polyline points="104,445 105.5,448" fill="none" stroke="#fff" stroke-width="1.2" stroke-linejoin="round"/>
<polyline points="94,456 94.5,458" fill="none" stroke="#fff" stroke-width="1.0" stroke-linejoin="round"/>
<polygon points="91,623.9 93.8,624.2 95.4,627.8 98.4,632.2 97.9,635 94.3,638.5 92.1,636.9 92.5,633.6 89.7,632.4 89.4,629.4" fill="#cacaca" stroke="#fff" stroke-width="0.5" stroke-linejoin="round"/>
<polyline points="92.2,633.6 97.8,632.9" fill="none" stroke="#fff" stroke-width="0.8" stroke-linejoin="round"/>
<polygon points="97.1,642.8 101.6,642.2 102.1,646.1 98.8,647.2" fill="#d4d4d4" stroke="#fff" stroke-width="0.6" stroke-linejoin="round"/>
<polygon points="82.5,595 85,594.6 85.2,596.4 83,596.8" fill="#dcdcdc" stroke="#fff" stroke-width="0.4" stroke-linejoin="round"/>
<polyline points="84,595.3 94,594.6" fill="none" stroke="#f0f0f0" stroke-width="0.7" stroke-linejoin="round"/>
<polygon points="109.8,598 111,597.6 111.2,601 109.9,601.4" fill="#d8d8d8" stroke="#fff" stroke-width="0.4" stroke-linejoin="round"/>
<polygon points="107,606.6 108.8,606 109,608.2 107.6,608.6" fill="#dcdcdc" stroke="#fff" stroke-width="0.4" stroke-linejoin="round"/>
<polygon points="175,703.5 181,702.5 183,704.5 178,706" fill="#d6d6d6" stroke="#fff" stroke-width="0.6" stroke-linejoin="round"/>
<polygon points="64.33,675.83 75.17,675.67 82.67,677.08 91,681.67 99.33,686.67 106,689.58 111,692.08 116,695 124.33,697.5 129.33,699.17 136,699.17 138.5,701.67 135.33,704.17 136.17,706.67 139.33,707.5 146,708.75 152.67,710 156.42,712.08 154.33,714.17 147.67,717.08 141,720 139.33,719.17 124.33,719.17 114.33,720 100.17,721.83 104.33,717.5 110.17,711.67 111.42,709.17 109.33,706.67 106,705.83 97.67,705.83 93.5,705.42 86,697.5 84.75,694.17 83.08,690.42 74.33,689.58 64.33,689.17" fill="#cacaca" stroke="#fff" stroke-width="0.6" stroke-linejoin="round"/>
<polyline points="75.58,675.83 74.33,680.83 76,683.33 73.08,686.67 74.33,689.33" fill="none" stroke="#fff" stroke-width="0.9" stroke-linejoin="round"/>
<polyline points="91,682.08 89.75,685.83 83.08,690.42" fill="none" stroke="#fff" stroke-width="0.9" stroke-linejoin="round"/>
<polyline points="111.42,692.5 110.58,697.5 105.17,700.83 97.67,705.42" fill="none" stroke="#fff" stroke-width="0.9" stroke-linejoin="round"/>
<polyline points="124.33,697.92 118.5,702.5 117.67,705.83 106.83,705.83" fill="none" stroke="#fff" stroke-width="0.9" stroke-linejoin="round"/>
<polyline points="117.67,705.83 127.67,710.83 124.33,713.33 123.5,719.17" fill="none" stroke="#fff" stroke-width="0.9" stroke-linejoin="round"/>
<polyline points="127.67,710.83 130.17,709.17 135.17,711.67 139.33,710.83" fill="none" stroke="#fff" stroke-width="0.9" stroke-linejoin="round"/>
<polygon points="95,748.1 97.75,747.9 97.6,751.5 95.9,751.1" fill="#d0d0d0" stroke="none" stroke-width="0" stroke-linejoin="round"/>
<polygon points="99.25,748.25 103,748.5 102.75,751.75 99.25,751.75" fill="#d0d0d0" stroke="none" stroke-width="0" stroke-linejoin="round"/>
<polygon points="104.75,749.25 108,749.25 111,751 110.75,752.6 104.25,752.6" fill="#d0d0d0" stroke="none" stroke-width="0" stroke-linejoin="round"/>
<polygon points="112.5,750 114.5,750.5 117.25,752.5 116,753.1" fill="#d0d0d0" stroke="none" stroke-width="0" stroke-linejoin="round"/>
<polygon points="118,753.25 121.5,753.75 125.25,755.5 124,756 118.5,754.5" fill="#d0d0d0" stroke="none" stroke-width="0" stroke-linejoin="round"/>
<polygon points="88.25,749.6 91.5,749.25 93.75,750 90,750.6" fill="#d0d0d0" stroke="none" stroke-width="0" stroke-linejoin="round"/>
<polygon points="88,752.1 92,751.75 95,752.6 94.5,753.75" fill="#d0d0d0" stroke="none" stroke-width="0" stroke-linejoin="round"/>
<polygon points="96,753.6 100,753.4 101,758.5 98.1,758.6" fill="#d0d0d0" stroke="none" stroke-width="0" stroke-linejoin="round"/>
<polygon points="101.6,753.5 103.5,753.9 105,758.5 102.6,758.6" fill="#d0d0d0" stroke="none" stroke-width="0" stroke-linejoin="round"/>
<polygon points="105.5,754.25 108.5,754.5 109.1,760.5 106.75,760.6" fill="#d0d0d0" stroke="none" stroke-width="0" stroke-linejoin="round"/>
<polygon points="110.25,753.75 113.5,753.6 114.1,758.6 111,757.75" fill="#d0d0d0" stroke="none" stroke-width="0" stroke-linejoin="round"/>
<polygon points="120,757.4 125,757.25 126.25,758.4 120.25,758.7" fill="#d0d0d0" stroke="none" stroke-width="0" stroke-linejoin="round"/>
<polygon points="115.5,755.1 117,755.5 118.5,756.75 116.5,756.4" fill="#d0d0d0" stroke="none" stroke-width="0" stroke-linejoin="round"/>
<polygon points="179.29,724.75 183.09,722.37 191.75,721.72 195,723.67 199.34,725.29 203.67,725.29 211.25,723.13 215.05,722.04 219.92,723.13 223.17,722.37 227.51,722.8 234.01,725.29 238.34,726.92 242.67,726.38 245.92,732.33 251.34,736.67 257.84,738.29 263.26,738.84 267.59,740.46 273.55,745.88 270.84,749.67 267.59,752.38 264.34,747.5 260.01,748.04 253.51,747.5 250.26,746.42 242.67,747.5 238.34,751.29 234.01,752.38 230.76,748.59 226.42,750.75 222.09,751.84 221.01,757.25 216.67,762.67 213.42,758.34 210.71,752.92 205.84,752.38 199.34,751.29 188.5,752.92 184.17,751.84 173.33,752.38 170.63,754.87 166.83,751.84 160.33,749.13 162.5,745.55 171.17,746.96 177.67,748.59 186.34,749.67 193.92,748.04 199.34,747.5 200.42,743.17 197.17,740.46 192.84,738.29 192.84,732.33 190.67,726.92 186.34,725.29" fill="#cacaca" stroke="#fff" stroke-width="0.6" stroke-linejoin="round"/>
<polyline points="219.92,723.13 221.01,730.17 216.67,733.42 212.34,739.92 211.25,744.25 206.92,746.42 208,750.75 210.71,752.92" fill="none" stroke="#fff" stroke-width="1.15" stroke-linejoin="round"/>
<polyline points="191.75,721.72 196.09,726.92 201.5,733.42 200.96,741 200.42,743.17" fill="none" stroke="#fff" stroke-width="1.15" stroke-linejoin="round"/>
<polyline points="203.67,725.29 204.75,731.25 201.5,733.42" fill="none" stroke="#fff" stroke-width="1.15" stroke-linejoin="round"/>
<polyline points="204.75,731.25 211.25,732.33 212.34,728 211.25,723.13" fill="none" stroke="#fff" stroke-width="1.15" stroke-linejoin="round"/>
<polyline points="201.5,733.42 210.17,734.5 212.34,739.92" fill="none" stroke="#fff" stroke-width="1.15" stroke-linejoin="round"/>
<polyline points="200.96,741 210.17,743.71" fill="none" stroke="#fff" stroke-width="1.15" stroke-linejoin="round"/>
<polyline points="193.92,748.04 205.84,747.5 206.92,746.42" fill="none" stroke="#fff" stroke-width="1.15" stroke-linejoin="round"/>
<polyline points="171.17,746.96 177.67,750.21 187.42,751.29 193.92,748.04" fill="none" stroke="#fff" stroke-width="1.15" stroke-linejoin="round"/>
<polyline points="187.42,751.29 188.5,752.92" fill="none" stroke="#fff" stroke-width="1.15" stroke-linejoin="round"/>
<polyline points="221.01,730.17 226.42,731.25 230.76,732.33 234.01,725.29" fill="none" stroke="#fff" stroke-width="1.15" stroke-linejoin="round"/>
<polyline points="226.42,731.25 222.09,725.83 223.17,722.37" fill="none" stroke="#fff" stroke-width="1.15" stroke-linejoin="round"/>
<polyline points="230.76,732.33 236.17,734.5 238.34,726.92" fill="none" stroke="#fff" stroke-width="1.15" stroke-linejoin="round"/>
<polyline points="236.17,734.5 242.67,734.5 245.92,732.33" fill="none" stroke="#fff" stroke-width="1.15" stroke-linejoin="round"/>
<polyline points="216.67,733.42 223.17,736.67 230.76,732.33" fill="none" stroke="#fff" stroke-width="1.15" stroke-linejoin="round"/>
<polyline points="223.17,736.67 226.42,738.29 234.01,736.67 236.17,734.5" fill="none" stroke="#fff" stroke-width="1.15" stroke-linejoin="round"/>
<polyline points="212.34,739.92 216.67,736.67 223.17,736.67" fill="none" stroke="#fff" stroke-width="1.15" stroke-linejoin="round"/>
<polyline points="226.42,738.29 224.26,744.25 222.09,747.5 216.67,746.42 211.25,744.25" fill="none" stroke="#fff" stroke-width="1.15" stroke-linejoin="round"/>
<polyline points="224.26,744.25 229.67,747.5 230.76,748.59" fill="none" stroke="#fff" stroke-width="1.15" stroke-linejoin="round"/>
<polyline points="234.01,736.67 231.84,742.09 236.17,744.25 238.34,751.29" fill="none" stroke="#fff" stroke-width="1.15" stroke-linejoin="round"/>
<polyline points="231.84,742.09 229.67,747.5" fill="none" stroke="#fff" stroke-width="1.15" stroke-linejoin="round"/>
<polyline points="236.17,744.25 242.67,741 245.92,737.75 242.67,734.5" fill="none" stroke="#fff" stroke-width="1.15" stroke-linejoin="round"/>
<polyline points="242.67,741 251.34,745.34 253.51,747.5" fill="none" stroke="#fff" stroke-width="1.15" stroke-linejoin="round"/>
<polyline points="245.92,737.75 253.51,740.46 257.84,738.29" fill="none" stroke="#fff" stroke-width="1.15" stroke-linejoin="round"/>
<polyline points="253.51,740.46 255.67,746.42 260.01,748.04" fill="none" stroke="#fff" stroke-width="1.15" stroke-linejoin="round"/>
<polyline points="264.34,739.38 263.26,744.25 264.34,747.5" fill="none" stroke="#fff" stroke-width="1.15" stroke-linejoin="round"/>
<polyline points="222.09,747.5 222.09,751.84" fill="none" stroke="#fff" stroke-width="1.15" stroke-linejoin="round"/>
<polyline points="216.67,746.42 217.76,751.84 221.01,757.25" fill="none" stroke="#fff" stroke-width="1.15" stroke-linejoin="round"/>
<polyline points="210.71,752.92 217.76,751.84" fill="none" stroke="#fff" stroke-width="1.15" stroke-linejoin="round"/>
<polyline points="182.54,739.92 189.59,742.3" fill="none" stroke="#d6d6d6" stroke-width="1.0" stroke-linejoin="round"/>
<polyline points="248.63,733.63 256.76,733.63" fill="none" stroke="#dedede" stroke-width="0.8" stroke-linejoin="round"/>
<polygon points="295.66,749.08 308.33,748.29 322.58,749.87 323.84,751.93 320.2,755.73 308.33,756.68 296.45,756.21" fill="#cacaca" stroke="#fff" stroke-width="0.6" stroke-linejoin="round"/>
<polygon points="396.5,788 399.5,787.5 400.5,793 397.5,794" fill="#d8d8d8" stroke="#fff" stroke-width="0.5" stroke-linejoin="round"/>
<polygon points="407.5,815.5 410,816 413,821.5 411,822" fill="#d8d8d8" stroke="#fff" stroke-width="0.5" stroke-linejoin="round"/>
<polygon points="403,802 405,802 405.5,807 403.5,807" fill="#eeeeee" stroke="#fff" stroke-width="0.5" stroke-linejoin="round"/>
<polyline points="585,788 547.5,778 504.25,770.5 458.75,766.25 428.25,753.25 355.5,733.25 323.25,729 297.2,718.4 274.7,699.3 247.3,696.5 211.5,692.4 192.9,698 176.3,705.5 166,710.8 159.5,714 152,718.5 141.3,714.8" fill="none" stroke="#222222" stroke-width="2.9" stroke-linejoin="round" stroke-linecap="butt"/>
<circle cx="428.25" cy="753.25" r="3.4" fill="#222222"/>
<circle cx="297.2" cy="718.4" r="3.4" fill="#222222"/>
<circle cx="211.5" cy="692.4" r="3.4" fill="#222222"/>
<circle cx="159.5" cy="714" r="3.4" fill="#222222"/>
<circle cx="504.25" cy="770.5" r="2.85" fill="#fff" stroke="#222222" stroke-width="1.1"/>
<circle cx="355.5" cy="733.25" r="2.85" fill="#fff" stroke="#222222" stroke-width="1.1"/>
<circle cx="247.3" cy="696.5" r="2.85" fill="#fff" stroke="#222222" stroke-width="1.1"/>
<circle cx="176.3" cy="705.5" r="2.85" fill="#fff" stroke="#222222" stroke-width="1.1"/>
<circle cx="141.3" cy="714.8" r="2.85" fill="#fff" stroke="#222222" stroke-width="1.1"/>
<polyline points="152.5,718.75 146,715.2 141.2,710.6 141.3,705.8 143.2,700 142.3,690 141.25,675.4 142.75,666.25 161.5,655.25 166.25,641.9 178.5,636.6 191.25,632.25 209.4,632.5 218.75,633.75 237.5,632.5 250,635.6 260.4,643.4 254.4,647.5 249.4,658.4 238.7,668" fill="none" stroke="#005526" stroke-width="2.8" stroke-linejoin="round" stroke-linecap="butt"/>
<circle cx="150.9" cy="697.3" r="3.4" fill="#222222"/>
<circle cx="161.5" cy="655.25" r="3.4" fill="#222222"/>
<circle cx="209.4" cy="632.5" r="3.4" fill="#222222"/>
<circle cx="249.4" cy="658.4" r="3.4" fill="#222222"/>
<circle cx="141.2" cy="710.6" r="2.85" fill="#fff" stroke="#222222" stroke-width="1.1"/>
<circle cx="141.25" cy="675.4" r="2.85" fill="#fff" stroke="#222222" stroke-width="1.1"/>
<circle cx="178.5" cy="636.6" r="2.85" fill="#fff" stroke="#222222" stroke-width="1.1"/>
<circle cx="237.5" cy="632.5" r="2.85" fill="#fff" stroke="#222222" stroke-width="1.1"/>
<circle cx="260.4" cy="643.4" r="2.85" fill="#fff" stroke="#222222" stroke-width="1.1"/>
<circle cx="152.5" cy="718.75" r="4.0" fill="#005526"/>
<polyline points="157.9,716.25 151.5,714.5 149.3,709 148.5,705.4 145.5,699.5 144,692.2 141.3,679 142.75,666.25 149.4,648.75 157.5,643.4 170,636 183.5,628.4 210,619.4 221.5,615.4 249.25,604.25 278.75,585 314.25,565.5 351.25,538.75 400.5,511.5 424.25,494.25 455.5,483.25 477.5,475.75 500.5,461.25" fill="none" stroke="#1e8a42" stroke-width="2.8" stroke-linejoin="round" stroke-linecap="butt"/>
<circle cx="144" cy="692.2" r="3.4" fill="#222222"/>
<circle cx="157.5" cy="643.4" r="3.4" fill="#222222"/>
<circle cx="249.25" cy="604.25" r="3.4" fill="#222222"/>
<circle cx="400.5" cy="511.5" r="3.4" fill="#222222"/>
<circle cx="500.5" cy="461.25" r="3.4" fill="#222222"/>
<circle cx="148.5" cy="705.4" r="2.85" fill="#fff" stroke="#222222" stroke-width="1.1"/>
<circle cx="142.75" cy="666.25" r="2.85" fill="#fff" stroke="#222222" stroke-width="1.1"/>
<circle cx="183.5" cy="628.4" r="2.85" fill="#fff" stroke="#222222" stroke-width="1.1"/>
<circle cx="314.25" cy="565.5" r="2.85" fill="#fff" stroke="#222222" stroke-width="1.1"/>
<circle cx="455.5" cy="483.25" r="2.85" fill="#fff" stroke="#222222" stroke-width="1.1"/>
<circle cx="157.9" cy="716.25" r="4.0" fill="#1e8a42"/>
<polyline points="144.2,716.7 144.2,701.3 155.6,679.3 183.5,651.5 221.5,615.4 275.5,565.5" fill="none" stroke="#797979" stroke-width="2.8" stroke-linejoin="round" stroke-linecap="butt"/>
<circle cx="144.2" cy="701.3" r="3.4" fill="#222222"/>
<circle cx="183.5" cy="651.5" r="3.4" fill="#222222"/>
<circle cx="275.5" cy="565.5" r="3.4" fill="#222222"/>
<circle cx="155.6" cy="679.3" r="2.85" fill="#fff" stroke="#222222" stroke-width="1.1"/>
<circle cx="221.5" cy="615.4" r="2.85" fill="#fff" stroke="#222222" stroke-width="1.1"/>
<circle cx="144.2" cy="716.7" r="4.0" fill="#797979"/>
</g>
<rect x="66.5" y="335.5" width="509" height="509" fill="none" stroke="#000" stroke-width="1.1"/>
<text transform="translate(149.9 865.2) scale(0.949 1)" text-anchor="middle" font-size="11.8">75°W</text>
<text transform="translate(242.9 865.2) scale(0.949 1)" text-anchor="middle" font-size="11.8">70°W</text>
<text transform="translate(335.9 865.2) scale(0.949 1)" text-anchor="middle" font-size="11.8">65°W</text>
<text transform="translate(428.9 865.2) scale(0.949 1)" text-anchor="middle" font-size="11.8">60°W</text>
<text transform="translate(521.9 865.2) scale(0.949 1)" text-anchor="middle" font-size="11.8">55°W</text>
<text transform="translate(53.2 817.9) scale(0.949 1)" text-anchor="end" font-size="11.8">15°N</text>
<text transform="translate(53.2 724.9) scale(0.949 1)" text-anchor="end" font-size="11.8">20°N</text>
<text transform="translate(53.2 630.9) scale(0.949 1)" text-anchor="end" font-size="11.8">25°N</text>
<text transform="translate(53.2 537.9) scale(0.949 1)" text-anchor="end" font-size="11.8">30°N</text>
<text transform="translate(53.2 444.9) scale(0.949 1)" text-anchor="end" font-size="11.8">35°N</text>
<text transform="translate(53.2 351.9) scale(0.949 1)" text-anchor="end" font-size="11.8">40°N</text>
<path d="M150.5 844.5v7M243.5 844.5v7M336.5 844.5v7M429.5 844.5v7M522.5 844.5v7M66.5 813.5h-7M66.5 720.5h-7M66.5 626.5h-7M66.5 533.5h-7M66.5 440.5h-7M66.5 347.5h-7" stroke="#000" stroke-width="1.1" fill="none"/>
<text transform="translate(568.8 355) scale(0.993 1)" text-anchor="end" font-weight="bold" font-size="13.9">Track</text>
<line x1="72" y1="348" x2="98" y2="348" stroke="#222222" stroke-width="3.2"/>
<text transform="translate(105 351.9) scale(0.975 1)" font-size="11.8">BEST</text>
<line x1="72" y1="362.1" x2="98" y2="362.1" stroke="#005526" stroke-width="3.2"/>
<text transform="translate(105 366) scale(0.975 1)" font-size="11.8">06z 21 Oct</text>
<line x1="72" y1="376.2" x2="98" y2="376.2" stroke="#1e8a42" stroke-width="3.2"/>
<text transform="translate(105 380.1) scale(0.975 1)" font-size="11.8">00z 21 Oct</text>
<line x1="72" y1="390.3" x2="98" y2="390.3" stroke="#797979" stroke-width="3.2"/>
<text transform="translate(105 394.2) scale(0.975 1)" font-size="11.8">OFCL</text>
<circle cx="85.3" cy="816.3" r="3.5" fill="#222222"/>
<circle cx="85.3" cy="830.4" r="2.95" fill="#fff" stroke="#222222" stroke-width="1.1"/>
<text transform="translate(105.5 820) scale(0.975 1)" font-size="11.8">00 UTC</text>
<text transform="translate(105.5 834.1) scale(0.975 1)" font-size="11.8">12 UTC</text>
<text x="12.3" y="26.8" font-size="22.26" font-weight="bold" fill="#000">HFSB Multi-Run Diagnostic Comparison</text>
<text x="1175" y="26.8" font-size="22.2" font-weight="bold" fill="#000" text-anchor="end">AL16 - AL162024</text>
<g transform="translate(0 864) scale(0.04)">
<g clip-path="url(#noaaclip)">
<rect x="100" y="80" width="800" height="800" fill="#fff"/>
<path d="M120 270L195 240Q290 330 380 470Q440 540 510 545Q580 540 640 450Q720 310 800 240L880 270V60H120Z" fill="#27407f"/>
<path d="M100 350L160 368Q250 460 350 540Q400 575 455 588L395 625Q520 605 645 560L590 548Q700 470 842 300L920 300V900H100Z" fill="#0b7cc8"/>
</g>
<text x="490" y="338" text-anchor="middle" font-size="125" font-weight="bold" style="fill:#e8ecf5;font-family:'Liberation Sans',sans-serif">noaa</text>
</g>
<circle cx="52.4" cy="882.7" r="9.2" fill="url(#globe)"/>
<path d="M45.2 879.5q1.5-4 5-4.6q2.5 1 1.2 3.4q-1 2.6-3 3.6q-2 1.6-3.2 0.2z" fill="#cdd4cc" opacity="0.85"/>
<path d="M47 886.5q2-1.5 3.5-0.5q0.5 2-1.5 3q-2 0-2-2.5z" fill="#3d6b4a" opacity="0.8"/>
<path d="M52 879l3-3l1 1.5l-3.5 4.5z" fill="#5d93c9" opacity="0.7"/>
<text transform="translate(0 894.7) scale(0.74 1)" y="0" font-size="37.4" font-weight="bold" style="fill:url(#cirag);stroke:url(#cirag);stroke-width:0.7;font-family:'Liberation Serif',serif"><tspan x="52.57">C</tspan><tspan x="82.57" font-size="35" style="font-family:'Liberation Sans',sans-serif">I</tspan><tspan x="94.86">R</tspan><tspan x="118.11">A</tspan></text>
<path d="M75 871.5H82Q86 873 85.5 877.5Q85 881.5 81 882.5H75Z" fill="url(#cirag2)"/>
<path d="M88.7 894.6L97.2 870.6H98.8L109.4 894.6Z" fill="url(#cirag2)"/>
<path d="M92.5 892.3l5.2-7.6l-2.6-0.6l5.4-3.2l0.6 5.8l-1 2.6l1.2 5.3h-2.4l-0.9-4.1z" fill="#e3e8ee" opacity="0.92"/>
<path d="M75.2 873.3l1.4 0.4l1.6 4.2l1.4 0.8l-0.8 1.2l-2-0.6z" fill="#cfd8e6" opacity="0.8"/>
</svg>
</body></html>
